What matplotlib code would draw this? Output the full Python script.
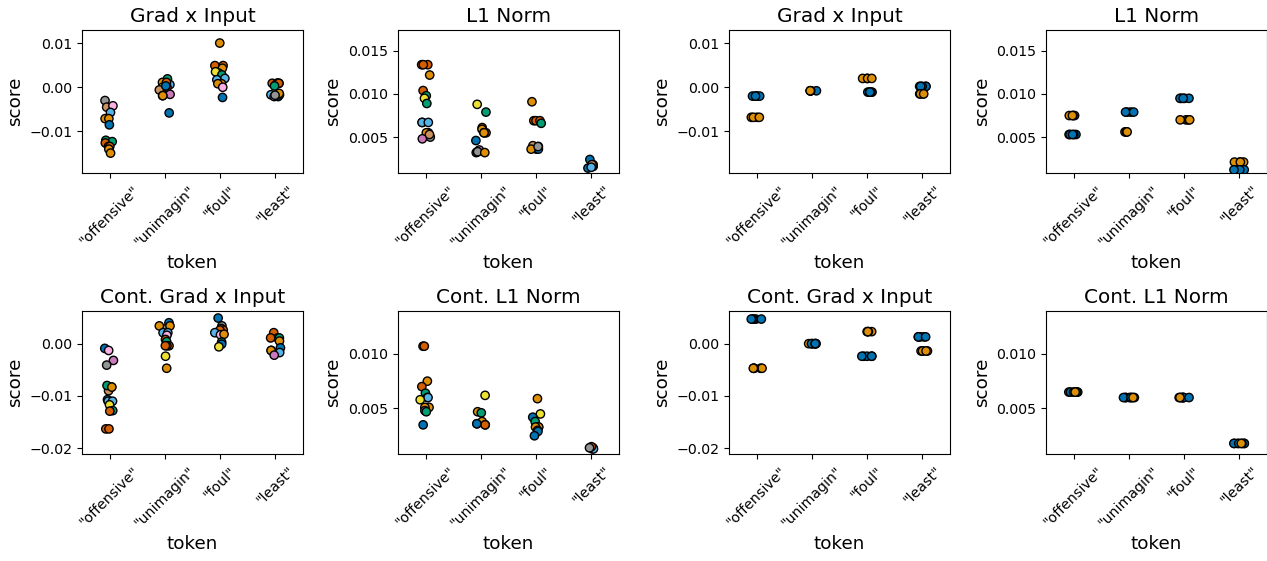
import numpy as np
import matplotlib.pyplot as plt

tokens = ['"offensive"', '"unimagin"', '"foul"', '"least"']
palette = ['#0173b2', '#de8f05', '#029e73', '#d55e00', '#cc78bc',
           '#ca9161', '#fbafe4', '#949494', '#ece133', '#56b4e9']

# left block: many samples, colour = palette index
gxi_vals = [
    [-0.0030, -0.0045, -0.0042, -0.0057, -0.0071, -0.0071, -0.0085, -0.0120,
     -0.0123, -0.0126, -0.0134, -0.0134, -0.0140, -0.0149],
    [0.0019, 0.0006, 0.0011, 0.0011, 0.0000, 0.0000, -0.0006, -0.0016,
     -0.0019, -0.0019, -0.0058, 0.0003],
    [0.0100, 0.0049, 0.0049, 0.0043, 0.0032, 0.0035, 0.0028, 0.0020,
     0.0017, 0.0008, 0.0008, 0.0000, -0.0023],
    [0.0009, 0.0009, 0.0009, 0.0009, 0.0009, 0.0003, -0.0021, -0.0017,
     -0.0017, -0.0014, -0.0021, -0.0018],
]
gxi_cols = [
    [7, 5, 6, 9, 1, 1, 0, 2, 2, 3, 3, 3, 1, 1],
    [2, 9, 1, 3, 3, 8, 5, 4, 6, 1, 0, 0],
    [1, 3, 3, 1, 3, 8, 2, 9, 9, 1, 1, 6, 0],
    [3, 3, 3, 1, 3, 2, 0, 9, 9, 1, 4, 7],
]

l1_vals = [
    [0.0134, 0.0134, 0.0134, 0.0122, 0.0104, 0.0098, 0.0095, 0.0089,
     0.0067, 0.0067, 0.0067, 0.0055, 0.0055, 0.0050, 0.0048, 0.0053],
    [0.0088, 0.0079, 0.0061, 0.0059, 0.0055, 0.0055, 0.0055, 0.0046,
     0.0035, 0.0032, 0.0033, 0.0033, 0.0032],
    [0.0091, 0.0069, 0.0069, 0.0069, 0.0066, 0.0039, 0.0040, 0.0036,
     0.0036, 0.0036, 0.0039],
    [0.0024, 0.0016, 0.0016, 0.0018, 0.0017, 0.0018, 0.0014, 0.0015],
]
l1_cols = [
    [3, 3, 3, 1, 3, 2, 8, 2, 0, 9, 9, 0, 1, 7, 4, 5],
    [8, 2, 3, 1, 3, 3, 1, 0, 4, 9, 1, 7, 1],
    [1, 3, 3, 3, 2, 4, 5, 9, 0, 1, 7],
    [0, 0, 9, 1, 3, 5, 0, 9],
]

cgxi_vals = [
    [-0.0009, -0.0013, -0.0032, -0.0041, -0.0083, -0.0090, -0.0080, -0.0083,
     -0.0107, -0.0110, -0.0110, -0.0117, -0.0128, -0.0129, -0.0163, -0.0163],
    [0.0040, 0.0028, 0.0034, 0.0034, 0.0021, 0.0021, 0.0016, 0.0008,
     0.0004, -0.0004, -0.0004, -0.0004, -0.0024, -0.0047],
    [0.0049, 0.0034, 0.0029, 0.0026, 0.0026, 0.0021, 0.0017, 0.0018,
     0.0003, -0.0001, -0.0006],
    [0.0021, 0.0011, 0.0011, 0.0011, 0.0005, -0.0008, -0.0013, -0.0013,
     -0.0017, -0.0022],
]
cgxi_cols = [
    [0, 6, 4, 7, 1, 5, 2, 1, 0, 9, 9, 8, 2, 3, 3, 3],
    [0, 7, 1, 1, 9, 9, 6, 3, 2, 3, 3, 3, 8, 1],
    [0, 7, 1, 3, 3, 9, 6, 1, 2, 0, 8],
    [3, 3, 3, 2, 1, 0, 1, 1, 9, 4],
]

cl1_vals = [
    [0.0107, 0.0107, 0.0075, 0.0070, 0.0064, 0.0060, 0.0060, 0.0058,
     0.0051, 0.0051, 0.0048, 0.0047, 0.0035],
    [0.0062, 0.0047, 0.0046, 0.0036, 0.0038, 0.0035, 0.0035, 0.0036],
    [0.0059, 0.0045, 0.0042, 0.0038, 0.0033, 0.0033, 0.0033, 0.0030,
     0.0029, 0.0025],
    [0.0014, 0.0013, 0.0013, 0.0015, 0.0014],
]
cl1_cols = [
    [3, 3, 1, 3, 2, 9, 9, 8, 1, 1, 4, 2, 0],
    [8, 1, 2, 7, 1, 9, 3, 0],
    [1, 8, 0, 2, 3, 1, 1, 9, 0, 0],
    [1, 0, 9, 3, 7],
]

# right block: two runs per token (blue = 0, orange = 1)
r_gxi_vals = [
    [-0.0020] * 5 + [-0.0068] * 4,
    [-0.0008] * 4 + [-0.0008] * 2,
    [0.0020] * 4 + [-0.0011] * 5,
    [0.0002] * 5 + [-0.0015] * 4,
]
r_gxi_cols = [
    [0] * 5 + [1] * 4,
    [0] * 4 + [1] * 2,
    [1] * 4 + [0] * 5,
    [0] * 5 + [1] * 4,
]

r_l1_vals = [
    [0.0075] * 4 + [0.0053] * 5,
    [0.0079] * 4 + [0.0056] * 4,
    [0.0095] * 5 + [0.0070] * 4,
    [0.0021] * 4 + [0.0012] * 5,
]
r_l1_cols = [
    [1] * 4 + [0] * 5,
    [0] * 4 + [1] * 4,
    [0] * 5 + [1] * 4,
    [1] * 4 + [0] * 5,
]

r_cgxi_vals = [
    [0.0047] * 5 + [-0.0047] * 5,
    [0.0000] * 4 + [0.0000] * 4,
    [0.0023] * 4 + [-0.0024] * 5,
    [0.0013] * 5 + [-0.0014] * 5,
]
r_cgxi_cols = [
    [0] * 5 + [1] * 5,
    [1] * 4 + [0] * 4,
    [1] * 4 + [0] * 5,
    [0] * 5 + [1] * 5,
]

r_cl1_vals = [
    [0.0065] * 7 + [0.0065],
    [0.0060] * 7 + [0.0060],
    [0.0060] * 7 + [0.0060],
    [0.0018] * 7 + [0.0018],
]
r_cl1_cols = [
    [0] * 7 + [1],
    [0] * 7 + [1],
    [0] * 7 + [1],
    [0] * 7 + [1],
]

panels = [
    ('Grad x Input', gxi_vals, gxi_cols, (-0.0194, 0.0129), [-0.01, 0.0, 0.01], '%.2f'),
    ('L1 Norm', l1_vals, l1_cols, (0.00083, 0.0174), [0.005, 0.010, 0.015], '%.3f'),
    ('Grad x Input', r_gxi_vals, r_gxi_cols, (-0.0194, 0.0129), [-0.01, 0.0, 0.01], '%.2f'),
    ('L1 Norm', r_l1_vals, r_l1_cols, (0.00083, 0.0174), [0.005, 0.010, 0.015], '%.3f'),
    ('Cont. Grad x Input', cgxi_vals, cgxi_cols, (-0.0211, 0.0062), [-0.02, -0.01, 0.0], '%.2f'),
    ('Cont. L1 Norm', cl1_vals, cl1_cols, (0.00083, 0.0139), [0.005, 0.010], '%.3f'),
    ('Cont. Grad x Input', r_cgxi_vals, r_cgxi_cols, (-0.0211, 0.0062), [-0.02, -0.01, 0.0], '%.2f'),
    ('Cont. L1 Norm', r_cl1_vals, r_cl1_cols, (0.00083, 0.0139), [0.005, 0.010], '%.3f'),
]

lefts = [0.0647, 0.3141, 0.5754, 0.8256]
bottoms = [0.6916, 0.1907]
w, h = 0.1744, 0.2545

rng = np.random.default_rng(3)

fig = plt.figure(figsize=(12.67, 5.61), dpi=100)
for k, (title, vals, cols, ylim, yticks, fmt) in enumerate(panels):
    ax = fig.add_axes([lefts[k % 4], bottoms[k // 4], w, h])
    for i in range(len(tokens)):
        y = np.array(vals[i])
        x = i + rng.uniform(-0.1, 0.1, len(y))
        c = [palette[j] for j in cols[i]]
        ax.scatter(x, y, s=36, c=c, edgecolors='black', linewidths=1, zorder=3)
    ax.set_xlim(-0.5, 3.5)
    ax.set_ylim(*ylim)
    ax.set_xticks(range(len(tokens)))
    ax.set_xticklabels(tokens, rotation=45, fontsize=10.2)
    ax.set_yticks(yticks)
    ax.set_yticklabels([(fmt % t).replace('-', '\u2212') for t in yticks], fontsize=10.2)
    ax.set_title(title, fontsize=14.4)
    ax.set_xlabel('token', fontsize=13.2)
    ax.set_ylabel('score', fontsize=13.2)

fig.savefig('out.png', dpi=100)
